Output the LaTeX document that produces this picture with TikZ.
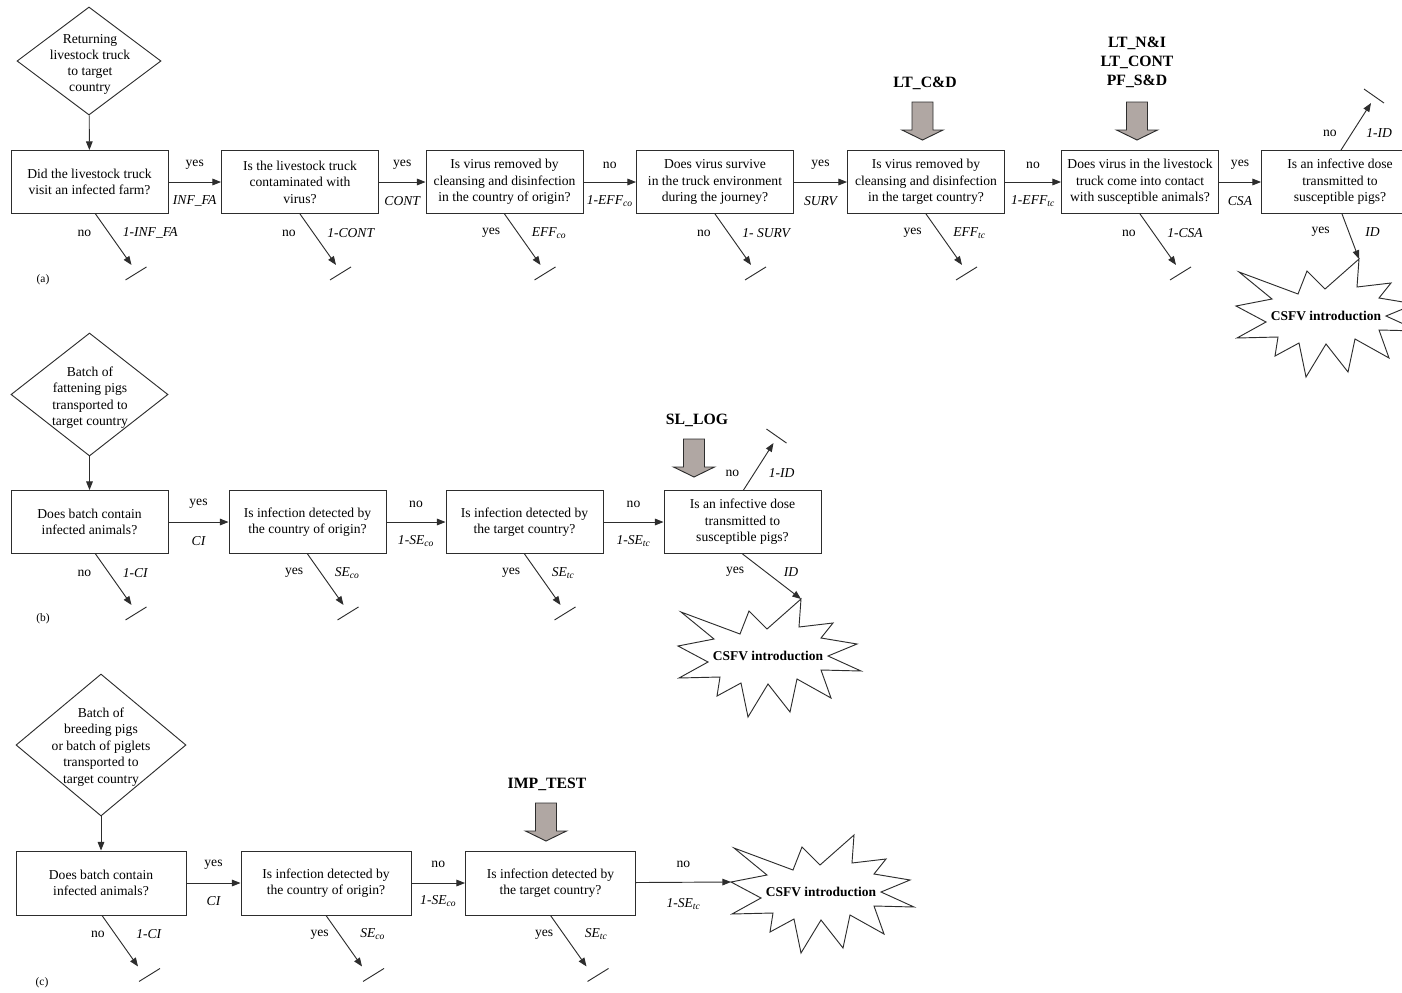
\documentclass[tikz,border=0pt]{standalone}
\usepackage{fontspec}
\setmainfont{Liberation Serif}
\usetikzlibrary{shapes.geometric,arrows.meta,calc}

\definecolor{linec}{RGB}{45,45,45}
\definecolor{blkfill}{RGB}{176,167,163}

\newcommand\diagbody{\fontsize{10.2}{12.4}\selectfont}
\newcommand\diagctrl{\fontsize{11.8}{14.25}\selectfont\bfseries}
\newcommand\diagburst{\fontsize{10.1}{12}\selectfont\bfseries}
\newcommand\diagtag{\fontsize{8.6}{10}\selectfont}

% downward exit of a question box that ends in a terminator stroke
% #1 box, #2 x offset of the start, #3 name, #4 answer, #5 probability, #6 shift of stroke and labels
\newcommand\exitdown[6]{%
  \coordinate (#3s) at ($(#1.south)+(#2,0)$);
  \coordinate (#3) at ($(#3s)+(36,51)$);
  \draw[conn] (#3s) -- (#3);
  \draw[termline] ($(#3)+(-6,15)+(#6,0)$) -- ($(#3)+(15,2)+(#6,0)$);
  \node[lab, anchor=east] at ($(#3s)+(-4,19)+(#6,0)$) {#4};
  \node[prob, anchor=west] at ($(#3s)+(27,19)+(#6,0)$) {#5};
}
% upward exit of a question box that ends in a terminator stroke
\newcommand\exitup[4]{%
  \coordinate (#2s) at ($(#1.north)+(1,0)$);
  \coordinate (#2) at ($(#2s)+(30,-47)$);
  \draw[conn] (#2s) -- (#2);
  \draw[termline] ($(#2)+(-7,-14)$) -- ($(#2)+(13,0)$);
  \node[lab, anchor=east] at ($(#2s)+(-4,-17)$) {#3};
  \node[prob, anchor=west] at ($(#2s)+(25,-17)$) {#4};
}

\begin{document}
\begin{tikzpicture}[x=0.75pt,y=-0.75pt,
  box/.style={draw=linec, line width=0.7pt, minimum width=117.75pt, minimum height=47.25pt,
              align=center, inner sep=1pt, font=\diagbody,
              execute at begin node={\rule{0pt}{13pt}}},
  wbox/.style={box, minimum width=127.5pt, minimum height=48pt},
  dia/.style={diamond, draw=linec, line width=0.7pt, inner sep=0pt},
  conn/.style={draw=linec, line width=0.7pt, -{Triangle[length=6.5pt,width=5pt]}},
  termline/.style={draw=linec, line width=0.7pt},
  lab/.style={font=\diagbody, inner sep=0pt},
  prob/.style={font=\diagbody\itshape, inner sep=0pt},
  ctrl/.style={font=\diagctrl, align=center, inner sep=0pt},
  tag/.style={font=\diagtag, inner sep=0pt},
  blk/.style={fill=blkfill, draw=linec, line width=0.7pt},
  downblock/.pic={
    \draw[blk] (-10.5,-38) -- (10.5,-38) -- (10.5,-10) -- (20.5,-10) -- (0,0)
               -- (-20.5,-10) -- (-10.5,-10) -- cycle;
  },
  burst/.pic={
    \draw[draw=linec, line width=0.7pt, fill=white]
      (33,-57) -- (31,-29) -- (65,-33) -- (53,-18) -- (89,-12) -- (60,0)
      -- (93,15) -- (53,14) -- (63,42) -- (29,23) -- (22,56) -- (0,28)
      -- (-20,61) -- (-27,27) -- (-51,40) -- (-48,21) -- (-89,22) -- (-60,6)
      -- (-90,-10) -- (-54,-17) -- (-87,-44) -- (-28,-22) -- (-19,-45) -- (-1,-27)
      -- cycle;
    \coordinate (-tip) at (33,-57);
    \coordinate (-left) at (-90,-10);
    \node[font=\diagburst, inner sep=0pt] (-txt) at (0,0) {CSFV introduction};
  }]
\clip (0,0) rectangle (1402,992);

% ---------------- (a) returning livestock truck ----------------
\node[dia, minimum width=108pt, minimum height=81pt] (da) at (89,61) {};
\node[lab, align=center, font=\fontsize{10.2}{12}\selectfont] (dat) at (90,64)
  {Returning\\livestock truck\\to target\\country};

\node[box] (a1) at (89.5,182) {Did the livestock truck\\visit an infected farm?};
\node[box] (a2) at (300,182) {Is the livestock truck\\contaminated with\\virus?};
\node[box] (a3) at (504.5,182) {Is virus removed by\\cleansing and disinfection\\in the country of origin?};
\node[box] (a4) at (715,182) {Does virus survive\\in the truck environment\\during the journey?};
\node[box] (a5) at (926,182) {Is virus removed by\\cleansing and disinfection\\in the target country?};
\node[box] (a6) at (1140,182) {Does virus in the livestock\\truck come into contact\\with susceptible animals?};
\node[box] (a7) at (1340,182) {Is an infective dose\\transmitted to\\susceptible pigs?};

\draw[conn] (da) -- (a1);
\draw[conn] (a1) -- node[lab, yshift=12.75pt]{yes} node[prob, yshift=-14pt]{INF\_FA} (a2);
\draw[conn] (a2) -- node[lab, yshift=12.75pt]{yes} node[prob, yshift=-14pt]{CONT} (a3);
\draw[conn] (a3) -- node[lab, yshift=12.75pt]{no} node[prob, yshift=-14pt]{1-EFF\textsubscript{co}} (a4);
\draw[conn] (a4) -- node[lab, yshift=12.75pt]{yes} node[prob, yshift=-14pt]{SURV} (a5);
\draw[conn] (a5) -- node[lab, yshift=12.75pt]{no} node[prob, yshift=-14pt]{1-EFF\textsubscript{tc}} (a6);
\draw[conn] (a6) -- node[lab, yshift=12.75pt]{yes} node[prob, yshift=-14pt]{CSA} (a7);

\exitdown{a1}{6}{xa1}{no}{1-INF\_FA}{0}
\exitdown{a2}{0}{xa2}{no}{1-CONT}{0}
\exitdown{a3}{0}{xa3}{yes}{EFF\textsubscript{co}}{0}
\exitdown{a4}{0}{xa4}{no}{1- SURV}{0}
\exitdown{a5}{0}{xa5}{yes}{EFF\textsubscript{tc}}{0}
\exitdown{a6}{0}{xa6}{no}{1-CSA}{0}
\exitup{a7}{ua7}{no}{1-ID}

\node[ctrl] (ca5) at (925,83) {LT\_C\&D};
\pic at (922.5,140) {downblock};
\node[ctrl] (ca6) at (1137,62) {LT\_N\&I\\LT\_CONT\\PF\_S\&D};
\pic at (1137,140) {downblock};

\pic (ba) at (1326,316) {burst};
\coordinate (a7b) at ($(a7.south)+(2,0)$);
\draw[conn] (a7b) -- (ba-tip);
\node[lab, anchor=east] at ($(a7b)+(-12,18)$) {yes};
\node[prob, anchor=west] at ($(a7b)+(23,18)$) {ID};

\node[tag] (taga) at (43,280) {(a)};

% ---------------- (b) fattening pigs ----------------
\node[dia, minimum width=117.75pt, minimum height=92.25pt] (db) at (89.5,394.5) {};
\node[lab, align=center] (dbt) at (90,397.5)
  {Batch of\\fattening pigs\\transported to\\target country};

\node[box] (b1) at (89.5,522) {Does batch contain\\infected animals?};
\node[box] (b2) at (307.5,522) {Is infection detected by\\the country of origin?};
\node[box] (b3) at (524.5,522) {Is infection detected by\\the target country?};
\node[box] (b4) at (742.5,522) {Is an infective dose\\transmitted to\\susceptible pigs?};

\draw[conn] (db) -- (b1);
\draw[conn] (b1) -- node[lab, yshift=13.5pt]{yes} node[prob, yshift=-14pt]{CI} (b2);
\draw[conn] (b2) -- node[lab, yshift=13.5pt]{no} node[prob, yshift=-14pt]{1-SE\textsubscript{co}} (b3);
\draw[conn] (b3) -- node[lab, yshift=13.5pt]{no} node[prob, yshift=-14pt]{1-SE\textsubscript{tc}} (b4);

\exitdown{b1}{6}{xb1}{no}{1-CI}{0}
\exitdown{b2}{0}{xb2}{yes}{SE\textsubscript{co}}{0}
\exitdown{b3}{0}{xb3}{yes}{SE\textsubscript{tc}}{0}
\exitup{b4}{ub4}{no}{1-ID}

\node[ctrl] (cb4) at (697,420) {SL\_LOG};
\pic at (694,477) {downblock};

\pic (bb) at (768,656) {burst};
\draw[conn] (b4.south) -- (bb-tip);
\node[lab, anchor=east] at ($(b4.south)+(2,18)$) {yes};
\node[prob, anchor=west] at ($(b4.south)+(41,18)$) {ID};

\node[tag] (tagb) at (43,619) {(b)};

% ---------------- (c) breeding pigs or piglets ----------------
\node[dia, minimum width=127.5pt, minimum height=106.5pt] (dc) at (101,745) {};
\node[lab, align=center] (dct) at (101,747)
  {Batch of\\breeding pigs\\or batch of piglets\\transported to\\target country};

\node[wbox] (c1) at (101,883) {Does batch contain\\infected animals?};
\node[wbox] (c2) at (326,883) {Is infection detected by\\the country of origin?};
\node[wbox] (c3) at (550.5,883) {Is infection detected by\\the target country?};

\draw[conn] (dc) -- (c1);
\draw[conn] (c1) -- node[lab, yshift=14pt]{yes} node[prob, yshift=-13.5pt]{CI} (c2);
\draw[conn] (c2) -- node[lab, yshift=14pt]{no} node[prob, yshift=-13.5pt]{1-SE\textsubscript{co}} (c3);

\exitdown{c1}{1}{xc1}{no}{1-CI}{7}
\exitdown{c2}{0}{xc2}{yes}{SE\textsubscript{co}}{7}
\exitdown{c3}{0}{xc3}{yes}{SE\textsubscript{tc}}{7}

\node[ctrl] (cc3) at (547,784) {IMP\_TEST};
\pic at (546,841) {downblock};

\pic (bc) at (821,892) {burst};
\draw[conn] (c3) -- node[lab, yshift=13.5pt]{no} node[prob, yshift=-16pt]{1-SE\textsubscript{tc}} (bc-left);

\node[tag] (tagc) at (42,983) {(c)};
\end{tikzpicture}
\end{document}
